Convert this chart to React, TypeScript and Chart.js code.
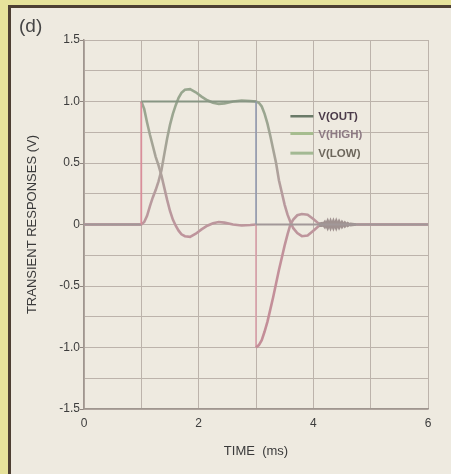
import React, { useEffect, useRef } from "react";
import { Chart, registerables } from "chart.js";

Chart.register(...registerables);

// ---- data ----
const seriesNames = ["V(OUT)", "V(HIGH)", "V(LOW)"];

const timeOut = [0, 1, 1, 3, 3, 6];
const vOut = [0, 0, 1, 1, 0, 0];

const timeFilt = [
  0, 1, 1, 1.05, 1.1, 1.15, 1.2, 1.25, 1.3, 1.35, 1.4, 1.45, 1.5, 1.55, 1.6, 1.65, 1.7, 1.76, 1.85, 1.95,
  2.05, 2.15, 2.25, 2.35, 2.45, 2.6, 2.75, 2.9, 3, 3, 3.05, 3.1, 3.15, 3.2, 3.25, 3.3, 3.35, 3.4, 3.45,
  3.5, 3.55, 3.6, 3.65, 3.72, 3.8, 3.9, 4.0, 4.1, 4.15, 4.2, 4.25, 4.3, 4.35, 4.4, 4.45, 4.5, 4.55, 4.6,
  4.65, 4.75, 6,
];
const vHigh = [
  0, 0, 1.0, 0.94, 0.83, 0.73, 0.64, 0.55, 0.48, 0.4, 0.3, 0.2, 0.11, 0.04, -0.01, -0.05, -0.08, -0.095, -0.1,
  -0.075, -0.04, -0.01, 0.01, 0.02, 0.015, 0, -0.008, -0.004, 0, -1.0, -0.98, -0.94, -0.87, -0.79, -0.69,
  -0.59, -0.48, -0.37, -0.27, -0.17, -0.08, 0, 0.04, 0.075, 0.085, 0.08, 0.045, 0.005, 0.01, -0.02, 0.03,
  -0.03, 0.03, -0.03, 0.025, -0.02, 0.015, -0.01, 0.005, 0, 0,
];
const vLow = [
  0, 0, 0, 0.02, 0.07, 0.15, 0.22, 0.28, 0.35, 0.44, 0.57, 0.7, 0.81, 0.9, 0.97, 1.03, 1.07, 1.095, 1.1,
  1.075, 1.04, 1.01, 0.99, 0.98, 0.985, 1.0, 1.008, 1.004, 1.0, 1.0, 0.99, 0.96, 0.9, 0.82, 0.72, 0.61,
  0.5, 0.36, 0.26, 0.16, 0.08, 0.02, -0.03, -0.07, -0.095, -0.09, -0.05, -0.01, -0.01, 0.02, -0.03, 0.03,
  -0.03, 0.03, -0.025, 0.02, -0.015, 0.01, -0.005, 0, 0,
];

const yTickValues = [-1.5, -1, -0.5, 0, 0.5, 1, 1.5];
const yTickLabels = ["-1.5", "-1.0", "-0.5", "0", "0.5", "1.0", "1.5"];
const xTickValues = [0, 2, 4, 6];
const xTickLabels = ["0", "2", "4", "6"];

const panelLabel = "(d)";
const xTitle = "TIME  (ms)";
const yTitle = "TRANSIENT RESPONSES (V)";

// ---- styles ----
const FONT = '"Liberation Sans", Arial, sans-serif';
const legendLineColors = ["#6a7a68", "#a6bd8f", "#a3b993"];
const legendTextColors = ["#4b3b49", "#8d7a83", "#6d675c"];

const outStops: [number, string][] = [
  [1.5, "#7f8f7c"],
  [0.8, "#8a9886"],
  [0.3, "#a09898"],
  [-1.5, "#a8979a"],
];
const filtStops: [number, string][] = [
  [1.5, "#93a68c"],
  [0.9, "#9aa690"],
  [0.5, "#aaa39a"],
  [0.2, "#b89a9e"],
  [-0.3, "#c3909a"],
  [-1.5, "#c48c96"],
];

function vGrad(chart: any, stops: [number, string][]) {
  const { ctx, chartArea, scales } = chart;
  if (!chartArea || !scales || !scales.y) return stops[0][1];
  const y = scales.y;
  const h = chartArea.bottom - chartArea.top;
  const g = ctx.createLinearGradient(0, chartArea.top, 0, chartArea.bottom);
  const items = stops
    .map(([v, c]) => [Math.min(1, Math.max(0, (y.getPixelForValue(v) - chartArea.top) / h)), c] as [number, string])
    .sort((a, b) => a[0] - b[0]);
  for (const [p, c] of items) g.addColorStop(p, c);
  return g;
}

const toPoints = (xs: number[], ys: number[]) => xs.map((x, i) => ({ x, y: ys[i] }));

const isVertical = (c: any) => Math.abs(c.p0.parsed.x - c.p1.parsed.x) < 1e-9;
const inRinging = (c: any) => c.p0.parsed.x >= 4.1 && c.p1.parsed.x <= 4.75;

const overlayPlugin = {
  id: "overlay",
  afterDraw(chart: any) {
    const { ctx } = chart;
    ctx.save();
    // panel label
    ctx.fillStyle = "#454545";
    ctx.font = `19px ${FONT}`;
    ctx.textAlign = "left";
    ctx.textBaseline = "alphabetic";
    ctx.fillText(panelLabel, 19, 32);
    // legend
    const x = chart.scales.x;
    const y = chart.scales.y;
    const lx0 = x.getPixelForValue(3.6);
    const lx1 = x.getPixelForValue(4.0);
    const rowsY = [0.88, 0.74, 0.58].map((v) => y.getPixelForValue(v));
    ctx.font = `bold 11.5px ${FONT}`;
    ctx.textBaseline = "middle";
    seriesNames.forEach((name, i) => {
      ctx.strokeStyle = legendLineColors[i];
      ctx.lineWidth = i === 0 ? 2.5 : 3;
      ctx.beginPath();
      ctx.moveTo(lx0, rowsY[i]);
      ctx.lineTo(lx1, rowsY[i]);
      ctx.stroke();
      ctx.fillStyle = legendTextColors[i];
      ctx.fillText(name, lx1 + 5, rowsY[i] + 1);
    });
    ctx.restore();
  },
};

export default function App() {
  const ref = useRef<HTMLCanvasElement | null>(null);

  useEffect(() => {
    if (!ref.current) return;
    const chart = new Chart(ref.current, {
      type: "line",
      data: {
        datasets: [
          {
            label: seriesNames[0],
            data: toPoints(timeOut, vOut),
            borderColor: (c: any) => vGrad(c.chart, outStops),
            borderWidth: 2,
            pointRadius: 0,
            tension: 0,
            segment: {
              borderColor: (c: any) =>
                isVertical(c) ? (c.p0.parsed.x < 2 ? "#d98e9a" : "#8f98ae") : undefined,
              borderWidth: (c: any) => (isVertical(c) ? 1.5 : undefined),
            },
          },
          {
            label: seriesNames[1],
            data: toPoints(timeFilt, vHigh),
            borderColor: (c: any) => vGrad(c.chart, filtStops),
            borderWidth: 2.6,
            pointRadius: 0,
            tension: 0,
            segment: {
              borderColor: (c: any) =>
                isVertical(c) ? "#d9a0aa" : inRinging(c) ? "#a09290" : undefined,
              borderWidth: (c: any) => (isVertical(c) ? 1.6 : undefined),
            },
          },
          {
            label: seriesNames[2],
            data: toPoints(timeFilt, vLow),
            borderColor: (c: any) => vGrad(c.chart, filtStops),
            borderWidth: 2.6,
            pointRadius: 0,
            tension: 0,
            segment: {
              borderColor: (c: any) => (inRinging(c) ? "#a09290" : undefined),
            },
          },
        ],
      },
      options: {
        responsive: false,
        maintainAspectRatio: false,
        animation: false,
        events: [],
        layout: { padding: { top: 40, right: 23, bottom: 0, left: 0 } },
        plugins: { legend: { display: false }, tooltip: { enabled: false }, title: { display: false } },
        scales: {
          x: {
            type: "linear",
            min: 0,
            max: 6,
            afterFit: (s: any) => {
              s.height = 65;
            },
            ticks: {
              stepSize: 1,
              autoSkip: false,
              maxRotation: 0,
              padding: 7,
              color: "#3c3c3c",
              font: { family: FONT, size: 12 },
              callback: (v: any) => {
                const i = xTickValues.findIndex((t) => Math.abs(t - Number(v)) < 1e-9);
                return i >= 0 ? xTickLabels[i] : "";
              },
            },
            grid: { color: "#bcb3ab", lineWidth: 1, drawTicks: false },
            border: { color: "#9f968f", width: 1.5 },
            title: {
              display: true,
              text: xTitle,
              color: "#3a3a3a",
              font: { family: FONT, size: 13 },
              padding: { top: 0, bottom: 15 },
            },
          },
          y: {
            type: "linear",
            min: -1.5,
            max: 1.5,
            afterFit: (s: any) => {
              s.width = 84;
            },
            ticks: {
              stepSize: 0.25,
              autoSkip: false,
              padding: 0,
              color: "#3c3c3c",
              font: { family: FONT, size: 12 },
              callback: (v: any) => {
                const i = yTickValues.findIndex((t) => Math.abs(t - Number(v)) < 1e-9);
                return i >= 0 ? yTickLabels[i] : "";
              },
            },
            grid: {
              color: "#bcb3ab",
              lineWidth: 1,
              tickLength: 4,
              tickColor: (c: any) => (c.tick && c.tick.label ? "#8f8680" : "rgba(0,0,0,0)"),
            },
            border: { color: "#9f968f", width: 1.5 },
            title: {
              display: true,
              text: yTitle,
              color: "#3a3a3a",
              font: { family: FONT, size: 13 },
              padding: { top: 25, bottom: 0 },
            },
          },
        },
      },
      plugins: [overlayPlugin],
    } as any);
    return () => chart.destroy();
  }, []);

  return (
    <div
      style={{
        position: "fixed",
        left: 0,
        top: 0,
        width: 451,
        height: 474,
        background: "#e6e29b",
        overflow: "hidden",
      }}
    >
      <div
        style={{
          position: "absolute",
          left: 8,
          top: 5,
          width: 460,
          height: 480,
          borderLeft: "3px solid #4d3f33",
          borderTop: "3px solid #4d3f33",
          background: "#eeeae0",
        }}
      />
      <canvas
        ref={ref}
        width={451}
        height={474}
        style={{ position: "absolute", left: 0, top: 0, width: 451, height: 474 }}
      />
    </div>
  );
}
